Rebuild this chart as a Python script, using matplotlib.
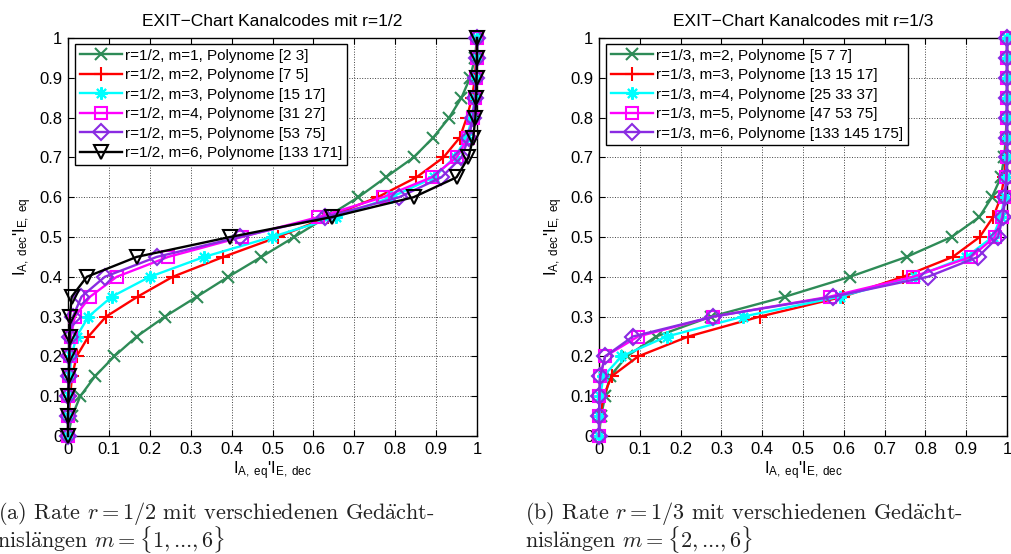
# EXIT charts of convolutional codes for rate 1/2 and rate 1/3

from matplotlib import pyplot as plt
import numpy as np

plt.rcParams['font.family'] = ['Liberation Sans', 'DejaVu Sans']
plt.rcParams['mathtext.fontset'] = 'custom'
plt.rcParams['mathtext.rm'] = 'Liberation Sans'
plt.rcParams['mathtext.it'] = 'Liberation Sans:italic'

# vertical axis levels (same for every curve)
i_levels = [0.0, 0.05, 0.1, 0.15, 0.2, 0.25, 0.3, 0.35, 0.4, 0.45, 0.5,
            0.55, 0.6, 0.65, 0.7, 0.75, 0.8, 0.85, 0.9, 0.95, 1.0]

# rate 1/2, horizontal values per curve
r12_m1 = [0, 0.01, 0.03, 0.066, 0.113, 0.168, 0.237, 0.315, 0.392, 0.473, 0.553,
          0.632, 0.71, 0.777, 0.845, 0.893, 0.932, 0.962, 0.983, 0.995, 1.0]
r12_m2 = [0, 0.002, 0.005, 0.01, 0.021, 0.05, 0.093, 0.17, 0.256, 0.38, 0.513,
          0.635, 0.757, 0.852, 0.918, 0.958, 0.975, 0.988, 0.995, 0.998, 1.0]
r12_m3 = [0, 0.001, 0.002, 0.004, 0.008, 0.021, 0.05, 0.107, 0.2, 0.333, 0.498,
          0.655, 0.79, 0.895, 0.945, 0.975, 0.988, 0.995, 0.998, 1.0, 1.0]
r12_m4 = [0, 0, 0.001, 0.002, 0.004, 0.007, 0.017, 0.054, 0.119, 0.245, 0.425,
          0.612, 0.77, 0.889, 0.95, 0.979, 0.99, 0.995, 0.998, 1.0, 1.0]
r12_m5 = [0, 0, 0.001, 0.002, 0.003, 0.005, 0.012, 0.033, 0.09, 0.217, 0.42,
          0.628, 0.81, 0.913, 0.962, 0.98, 0.99, 0.995, 0.998, 1.0, 1.0]
r12_m6 = [0, 0, 0.001, 0.002, 0.003, 0.004, 0.005, 0.009, 0.046, 0.168, 0.396,
          0.645, 0.845, 0.95, 0.979, 0.991, 0.996, 0.998, 0.999, 1.0, 1.0]

# rate 1/3, horizontal values per curve
r13_m2 = [0, 0.005, 0.015, 0.027, 0.068, 0.14, 0.275, 0.456, 0.615, 0.754, 0.864,
          0.932, 0.963, 0.985, 0.993, 0.997, 0.999, 1.0, 1.0, 1.0, 1.0]
r13_m3 = [0, 0.003, 0.011, 0.031, 0.096, 0.219, 0.394, 0.598, 0.745, 0.867, 0.933,
          0.966, 0.985, 0.993, 0.997, 0.999, 1.0, 1.0, 1.0, 1.0, 1.0]
r13_m4 = [0, 0.001, 0.003, 0.011, 0.055, 0.166, 0.353, 0.59, 0.775, 0.9, 0.965,
          0.985, 0.994, 0.998, 1.0, 1.0, 1.0, 1.0, 1.0, 1.0, 1.0]
r13_m5 = [0, 0, 0.001, 0.003, 0.015, 0.096, 0.28, 0.565, 0.77, 0.912, 0.97,
          0.988, 0.995, 0.998, 1.0, 1.0, 1.0, 1.0, 1.0, 1.0, 1.0]
r13_m6 = [0, 0, 0.001, 0.003, 0.015, 0.083, 0.28, 0.574, 0.806, 0.929, 0.978,
          0.99, 0.996, 0.999, 1.0, 1.0, 1.0, 1.0, 1.0, 1.0, 1.0]

labels_r12 = ['r=1/2, m=1, Polynome [2 3]', 'r=1/2, m=2, Polynome [7 5]',
              'r=1/2, m=3, Polynome [15 17]', 'r=1/2, m=4, Polynome [31 27]',
              'r=1/2, m=5, Polynome [53 75]', 'r=1/2, m=6, Polynome [133 171]']
labels_r13 = ['r=1/3, m=2, Polynome [5 7 7]', 'r=1/3, m=3, Polynome [13 15 17]',
              'r=1/3, m=4, Polynome [25 33 37]', 'r=1/3, m=5, Polynome [47 53 75]',
              'r=1/3, m=6, Polynome [133 145 175]']

ticks = [0, 0.1, 0.2, 0.3, 0.4, 0.5, 0.6, 0.7, 0.8, 0.9, 1]
tick_labels = ['0', '0.1', '0.2', '0.3', '0.4', '0.5', '0.6', '0.7', '0.8', '0.9', '1']

green = '#2E8B57'
purple = '#8A2BE2'
styles = [
    dict(color=green, marker='x', ms=8),
    dict(color='red', marker='+', ms=10),
    dict(color='cyan', marker=(8, 2, 0), ms=9),
    dict(color='magenta', marker='s', ms=8),
    dict(color=purple, marker='D', ms=8),
    dict(color='black', marker='v', ms=10),
]


def exit_axes(ax, curves, labels, title):
    for i in range(len(curves)):
        st = styles[i]
        ax.plot(curves[i], i_levels, color=st['color'], marker=st['marker'],
                ms=st['ms'], mfc='none', mec=st['color'], mew=1.5, lw=1.7,
                label=labels[i], clip_on=False, zorder=3 + i)
    ax.set_xlim(0, 1)
    ax.set_ylim(0, 1)
    ax.set_xticks(ticks)
    ax.set_xticklabels(tick_labels)
    ax.set_yticks(ticks)
    ax.set_yticklabels(tick_labels)
    ax.tick_params(direction='in', top=True, right=True, length=4, width=0.8,
                   labelsize=12, pad=4)
    ax.grid(True, linestyle=':', color='0.25', lw=0.7)
    for s in ax.spines.values():
        s.set_linewidth(1.0)
    ax.set_title(title, fontsize=12.5, pad=9)
    ax.set_xlabel(r"$\mathrm{I}_{\mathrm{A,\ eq}}$'$\mathrm{I}_{\mathrm{E,\ dec}}$",
                  fontsize=12, labelpad=2)
    ax.set_ylabel(r"$\mathrm{I}_{\mathrm{A,\ dec}}$'$\mathrm{I}_{\mathrm{E,\ eq}}$",
                  fontsize=12, labelpad=4)
    leg = ax.legend(loc='upper left', bbox_to_anchor=(0.017, 0.985), borderaxespad=0,
                    fontsize=11, fancybox=False, framealpha=1, edgecolor='black',
                    handlelength=2.75, handletextpad=0.25, labelspacing=0.36,
                    borderpad=0.3)
    leg.get_frame().set_linewidth(1.0)
    leg.set_zorder(20)


fig = plt.figure(figsize=(10.12, 5.54), dpi=100)
ax1 = fig.add_axes([68 / 1012, 118 / 554, 409 / 1012, 398 / 554])
ax2 = fig.add_axes([599 / 1012, 118 / 554, 408 / 1012, 398 / 554])

exit_axes(ax1, [r12_m1, r12_m2, r12_m3, r12_m4, r12_m5, r12_m6], labels_r12,
          'EXIT\u2212Chart Kanalcodes mit r=1/2')
exit_axes(ax2, [r13_m2, r13_m3, r13_m4, r13_m5, r13_m6], labels_r13,
          'EXIT\u2212Chart Kanalcodes mit r=1/3')

# subfigure captions (Computer Modern look)
cap = dict(family='cmr10', fontsize=16, math_fontfamily='cm', color='#222222')
fig.text(-2 / 1012, 1 - 519 / 554,
         r'(a) Rate $r=1/2$ mit verschiedenen Ged$\mathrm{\ddot{a}}$cht-', **cap)
fig.text(-3 / 1012, 1 - 548 / 554,
         r'nisl$\mathrm{\ddot{a}}$ngen $m=\{1,$...$,6\}$', **cap)
fig.text(525 / 1012, 1 - 519 / 554,
         r'(b) Rate $r=1/3$ mit verschiedenen Ged$\mathrm{\ddot{a}}$cht-', **cap)
fig.text(525 / 1012, 1 - 548 / 554,
         r'nisl$\mathrm{\ddot{a}}$ngen $m=\{2,$...$,6\}$', **cap)

plt.savefig('out.png', dpi=100)
plt.close()
